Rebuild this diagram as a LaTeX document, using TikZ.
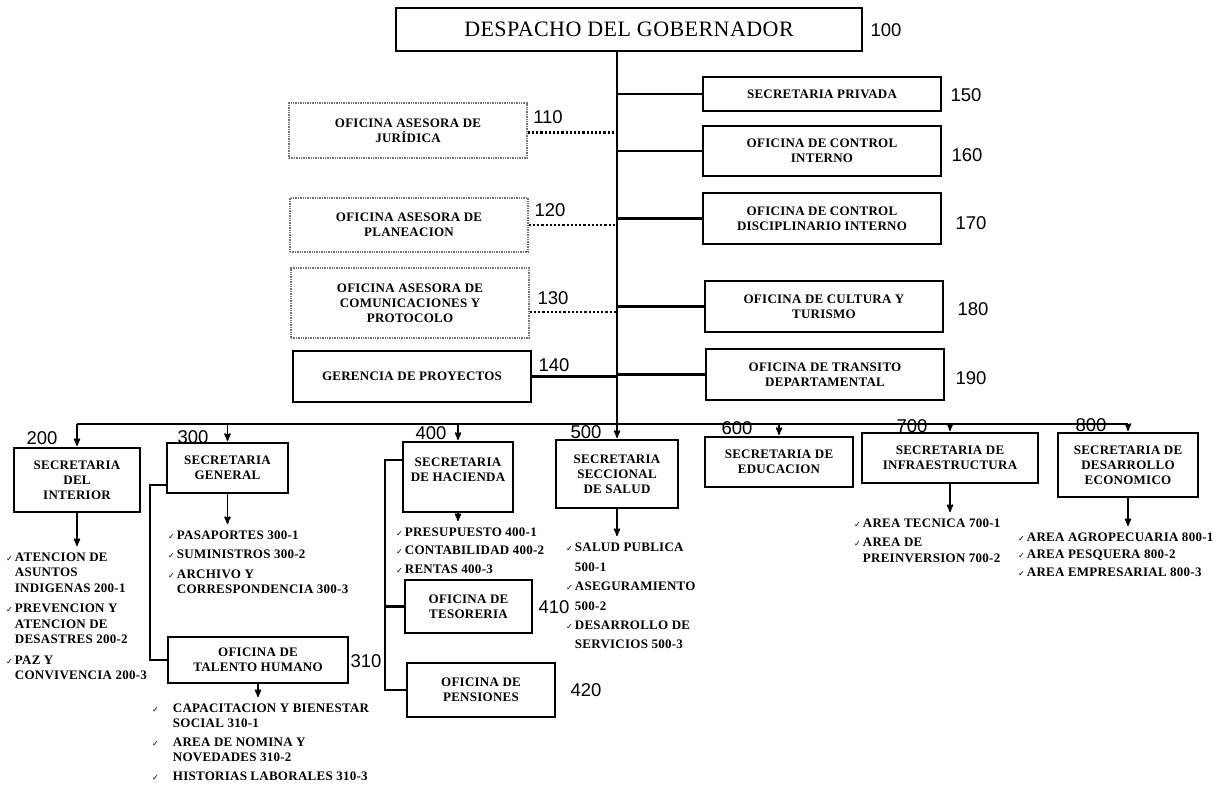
\documentclass[tikz,border=0pt]{standalone}
\usepackage{fontspec}
\setmainfont{Liberation Serif}
\newfontfamily\boxfamily[LetterSpace=2]{Liberation Serif}
\newfontfamily\numfamily{Liberation Sans}
\newfontfamily\chkfamily{DejaVu Sans}
\usepackage{tikz}
\usetikzlibrary{arrows}
\newcommand{\chk}{{\chkfamily\fontsize{8}{8}\selectfont ✓}}
\tikzset{
  box/.style={draw, line width=2.2pt, align=center, inner sep=1pt,
    font=\boxfamily\bfseries\fontsize{13}{15}\selectfont},
  asesor/.style={box, draw=black!55, line width=1.4pt, densely dotted},
  num/.style={font=\numfamily\fontsize{18.5}{18.5}\selectfont, inner sep=0pt},
  lista/.style={anchor=north west, inner sep=0pt, align=left,
    font=\boxfamily\bfseries\fontsize{13}{15.5}\selectfont},
  linea/.style={line width=2.2pt},
  punteo/.style={line width=2.2pt, dotted},
  baja/.style={->, >=stealth', line width=1.6pt, shorten >=1pt},
}

\begin{document}
\begin{tikzpicture}[x=1pt, y=-1pt]
  \useasboundingbox (0,0) rectangle (1225,788);

  \node[box, minimum width=466, minimum height=43, font=\boxfamily\fontsize{22}{24}\selectfont] (gob) at (629,29.5) {DESPACHO DEL GOBERNADOR};
  \node[num] (n100) at (886,30) {100};

  \coordinate (spine) at (617,424);

  \node[box, minimum width=238, minimum height=34] (r150) at (822,94) {SECRETARIA PRIVADA};
  \node[box, minimum width=238, minimum height=50] (r160) at (822,151) {OFICINA DE CONTROL\\INTERNO};
  \node[box, minimum width=238, minimum height=51] (r170) at (822,218.5) {OFICINA DE CONTROL\\DISCIPLINARIO INTERNO};
  \node[box, minimum width=238, minimum height=51] (r180) at (824,306.5) {OFICINA DE CULTURA Y\\TURISMO};
  \node[box, minimum width=238, minimum height=51] (r190) at (825,374.5) {OFICINA DE TRANSITO\\DEPARTAMENTAL};
  \node[num] (n150) at (966,95) {150};
  \node[num] (n160) at (967,155) {160};
  \node[num] (n170) at (971,223) {170};
  \node[num] (n180) at (973,309) {180};
  \node[num] (n190) at (971,378) {190};

  \node[asesor, minimum width=238, minimum height=55] (l110) at (408,130.5) {OFICINA ASESORA DE\\JURÍDICA};
  \node[asesor, minimum width=238, minimum height=54] (l120) at (409,225) {OFICINA ASESORA DE\\PLANEACION};
  \node[asesor, minimum width=238, minimum height=70] (l130) at (410,303) {OFICINA ASESORA DE\\COMUNICACIONES Y\\PROTOCOLO};
  \node[box, minimum width=238, minimum height=51] (l140) at (412,376.5) {GERENCIA DE PROYECTOS};
  \node[num] (n110) at (548,117) {110};
  \node[num] (n120) at (550,210) {120};
  \node[num] (n130) at (553,298) {130};
  \node[num] (n140) at (554,365) {140};

  \draw[line width=2.6pt] (gob.south -| spine) -- (spine);
  \foreach \b in {r150,r160,r170,r180,r190}
    \draw[linea] (spine |- \b.west) -- (\b.west);
  \draw[punteo] ([yshift=-2pt]l110.east) -- ([yshift=-2pt]l110.east -| spine);
  \draw[punteo] (l120.east) -- (l120.east -| spine);
  \draw[punteo] ([yshift=-9pt]l130.east) -- ([yshift=-9pt]l130.east -| spine);
  \draw[linea] (l140.east) -- (l140.east -| spine);

  \node[box, minimum width=126, minimum height=64] (s200) at (77,480) {SECRETARIA\\DEL\\INTERIOR};
  \node[box, minimum width=121, minimum height=50] (s300) at (227.5,468) {SECRETARIA\\GENERAL};
  \node[box, minimum width=110, minimum height=70] (s400) at (458,477) {SECRETARIA\\DE HACIENDA\\ \mbox{}};
  \node[box, minimum width=122, minimum height=68] (s500) at (617,474) {SECRETARIA\\SECCIONAL\\DE SALUD};
  \node[box, minimum width=148, minimum height=50] (s600) at (779,462) {SECRETARIA DE\\EDUCACION};
  \node[box, minimum width=176, minimum height=50] (s700) at (950,458) {SECRETARIA DE\\INFRAESTRUCTURA};
  \node[box, minimum width=140, minimum height=64] (s800) at (1128,465) {SECRETARIA DE\\DESARROLLO\\ECONOMICO};
  \node[num] (n200) at (42,438) {200};
  \node[num] (n300) at (193,437) {300};
  \node[num] (n400) at (431,433) {400};
  \node[num] (n500) at (586,432) {500};
  \node[num] (n600) at (737,428) {600};
  \node[num] (n700) at (912,426) {700};
  \node[num] (n800) at (1091,425) {800};

  \draw[linea] (s200.north |- spine) -- (s800.north |- spine);
  \foreach \b in {s200,s300,s400,s500,s600,s700,s800}
    \draw[baja] (\b.north |- spine) -- (\b.north);

  \node[box, minimum width=180, minimum height=46] (l310) at (258,660) {OFICINA DE\\TALENTO HUMANO};
  \node[box, minimum width=127, minimum height=53] (l410) at (468.5,606.5) {OFICINA DE\\TESORERIA};
  \node[box, minimum width=148, minimum height=54] (l420) at (481,690) {OFICINA DE\\PENSIONES};
  \node[num] (n310) at (366,661) {310};
  \node[num] (n410) at (554,607) {410};
  \node[num] (n420) at (586,690) {420};

  \coordinate (gen) at (150,0);
  \coordinate (hac) at (385,0);
  \draw[linea] ([yshift=-17pt]s300.west) -- ([yshift=-17pt]s300.west -| gen) |- (l310.west);
  \draw[linea] ([yshift=17pt]s400.west) -- ([yshift=17pt]s400.west -| hac) |- (l420.west);
  \draw[linea] (l410.west -| hac) -- (l410.west);

  \node[lista] (t200) at (6,550) {\begin{tabular}{@{}l@{\hspace{2pt}}l@{}}
    \chk & ATENCION DE\\ & ASUNTOS\\ & INDIGENAS 200-1\\[5pt]
    \chk & PREVENCION Y\\ & ATENCION DE\\ & DESASTRES 200-2\\[5pt]
    \chk & PAZ Y\\ & CONVIVENCIA 200-3
  \end{tabular}};
  \node[lista] (t300) at (168,528) {\begin{tabular}{@{}l@{\hspace{2pt}}l@{}}
    \chk & PASAPORTES 300-1\\[4pt]
    \chk & SUMINISTROS 300-2\\[4pt]
    \chk & ARCHIVO Y\\ & CORRESPONDENCIA 300-3
  \end{tabular}};
  \node[lista] (t310) at (152,701) {\begin{tabular}{@{}l@{\hspace{14pt}}l@{}}
    \chk & CAPACITACION Y BIENESTAR\\ & SOCIAL 310-1\\[3pt]
    \chk & AREA DE NOMINA Y\\ & NOVEDADES 310-2\\[3pt]
    \chk & HISTORIAS LABORALES 310-3
  \end{tabular}};
  \node[lista] (t400) at (396,525) {\begin{tabular}{@{}l@{\hspace{2pt}}l@{}}
    \chk & PRESUPUESTO 400-1\\[3pt]
    \chk & CONTABILIDAD 400-2\\[3pt]
    \chk & RENTAS 400-3
  \end{tabular}};
  \node[lista] (t500) at (566,540) {\begin{tabular}{@{}l@{\hspace{2pt}}l@{}}
    \chk & SALUD PUBLICA\\[5pt] & 500-1\\[3pt]
    \chk & ASEGURAMIENTO\\[5pt] & 500-2\\[3pt]
    \chk & DESARROLLO DE\\[4pt] & SERVICIOS 500-3
  \end{tabular}};
  \node[lista] (t700) at (854,516) {\begin{tabular}{@{}l@{\hspace{2pt}}l@{}}
    \chk & AREA TECNICA 700-1\\[4pt]
    \chk & AREA DE\\ & PREINVERSION 700-2
  \end{tabular}};
  \node[lista] (t800) at (1018,530) {\begin{tabular}{@{}l@{\hspace{2pt}}l@{}}
    \chk & AREA AGROPECUARIA 800-1\\[2pt]
    \chk & AREA PESQUERA 800-2\\[2pt]
    \chk & AREA EMPRESARIAL 800-3
  \end{tabular}};

  \foreach \b/\t in {s200/t200,s300/t300,s400/t400,s500/t500,s700/t700,s800/t800,l310/t310}
    \draw[baja, shorten >=4pt] (\b.south) -- (\b.south |- \t.north);
\end{tikzpicture}
\end{document}
